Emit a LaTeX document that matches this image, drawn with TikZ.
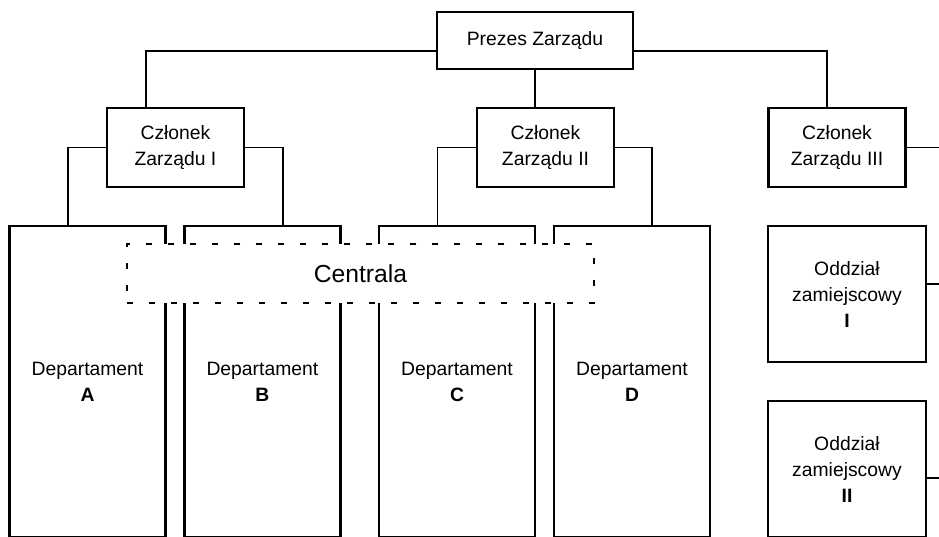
\documentclass[tikz,border=0pt]{standalone}
\usepackage{fontspec}
\setmainfont{Liberation Sans}
\usetikzlibrary{calc}
\begin{document}
\begin{tikzpicture}[x=0.75pt,y=-0.75pt,
  box/.style={draw, line width=2pt, rectangle, inner sep=0pt, align=center,
    font=\fontsize{14.5}{19.5}\selectfont},
  chief/.style={box, minimum width=147pt, minimum height=42.75pt},
  member/.style={box, minimum width=102.75pt, minimum height=59.25pt},
  dept/.style={box, minimum width=117pt, minimum height=233.25pt},
  branch/.style={box, minimum width=118.5pt, minimum height=102pt},
  hq/.style={draw, fill=white, line width=2pt, dash pattern=on 4.5pt off 12pt,
    rectangle, inner sep=0pt, minimum width=350.25pt, minimum height=44.25pt,
    font=\fontsize{18.5}{22}\selectfont},
  link/.style={line width=0.9pt}]
\useasboundingbox (0,0) rectangle (939,536);
\clip (0,0) rectangle (939,536);
\coordinate (rim) at (945,0);

% management
\node[chief] (ps) at (535,40.5) {Prezes Zarządu};
\node[member] (c1) at (175.5,147.5) {Członek\\Zarządu I};
\node[member] (c2) at (545.5,147.5) {Członek\\Zarządu II};
\node[member] (c3) at (837,147.5) {Członek\\Zarządu III};

% departments
\node[dept] (dA) at (87.5,381.5) {Departament\\\textbf{A}};
\node[dept] (dB) at (262.4,381.5) {Departament\\\textbf{B}};
\node[dept] (dC) at (457,381.5) {Departament\\\textbf{C}};
\node[dept] (dD) at (632,381.5) {Departament\\\textbf{D}};

% head office band over the departments
\node[hq] (hq) at (360.5,273.5) {Centrala};

% regional branches
\node[branch] (o1) at (847,294) {Oddział\\zamiejscowy\\\textbf{I}};
\node[branch] (o2) at (847,469) {Oddział\\zamiejscowy\\\textbf{II}};

% reporting lines
\draw[link] ($(ps.west)+(0,10.5)$) -| ($(c1.north)+(-29.5,0)$);
\draw[link] ($(ps.east)+(0,10.5)$) -| ($(c3.north)+(-10,0)$);
\draw[link] (ps.south) -- (ps.south |- c2.north);
\draw[link] (c1.west) -| ($(dA.north)+(-19.5,0)$);
\draw[link] (c1.east) -| ($(dB.north)+(20.6,0)$);
\draw[link] (c2.west) -| ($(dC.north)+(-19.3,0)$);
\draw[link] (c2.east) -| ($(dD.north)+(20,0)$);
\draw[link] (c3.east) -- (c3.east -| rim);
\coordinate (o1out) at ($(o1.east)+(0,-10)$);
\coordinate (o2out) at ($(o2.east)+(0,9)$);
\draw[link] (o1out) -- (o1out -| rim);
\draw[link] (o2out) -- (o2out -| rim);
\end{tikzpicture}
\end{document}
